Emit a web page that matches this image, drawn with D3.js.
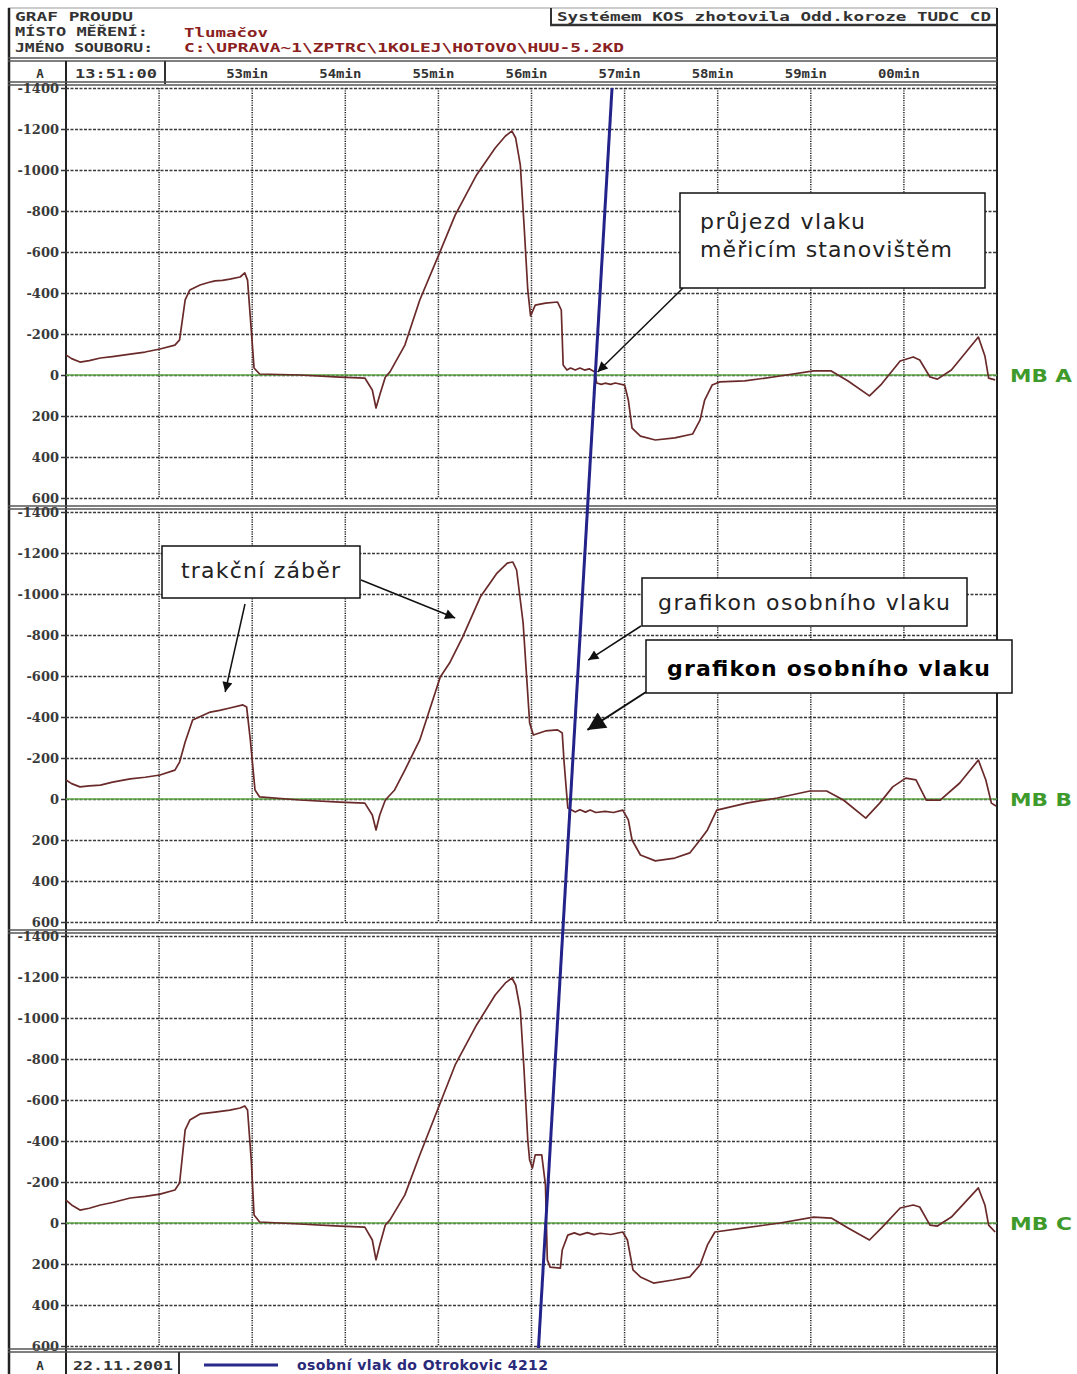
<!DOCTYPE html>
<meta charset="utf-8">
<title>Graf proudu - Tlumačov</title>
<body>
<script src="https://cdn.jsdelivr.net/npm/d3@7"></script>
<style>
html, body {
    margin: 0;
    background: #fff;
}
svg {
    display: block;
}
.grid-h line {
    stroke: #3a3a3a;
    stroke-width: 1.5;
    stroke-dasharray: 3,1.5;
}
.grid-h path, .yaxis path {
    display: none;
}
.grid-v {
    stroke: #222;
    stroke-width: 1.5;
    stroke-dasharray: 1.2,1.2;
}
.yaxis text {
    font: bold 13px "DejaVu Serif", serif;
    fill: #3a3a3a;
}
.yaxis line {
    stroke: #333;
    stroke-width: 1.5;
}
.mono {
    font-family: "DejaVu Sans Mono", monospace;
    font-weight: bold;
    font-size: 12.5px;
    fill: #333;
}
.note {
    font-family: "DejaVu Sans", sans-serif;
    font-size: 22px;
    fill: #222;
}
</style>
<script>
var width = 1077,
    height = 1374,
    left = 66,
    right = 997,
    panelTop0 = 88,
    panelStep = 424,
    panelH = 410;

var panelNames = ["MB A", "MB B", "MB C"];
var yTicks = [-1400, -1200, -1000, -800, -600, -400, -200, 0, 200, 400, 600];
var minuteTicks = [52, 53, 54, 55, 56, 57, 58, 59, 60];
var minuteLabels = ["53min", "54min", "55min", "56min", "57min", "58min", "59min", "00min"];

// [minute after 13:00, current A]
var mbA = [[51.00,-98],[51.06,-80],[51.15,-63],[51.25,-70],[51.37,-83],[51.50,-90],[51.69,-102],[51.85,-112],[52.01,-127],[52.17,-146],[52.22,-171],[52.28,-366],
  [52.33,-415],[52.44,-439],[52.52,-450],[52.60,-459],[52.68,-462],[52.76,-468],[52.87,-478],[52.92,-498],[52.95,-463],[52.99,-220],
  [53.02,-34],[53.08,-5],[53.51,0],[53.94,10],[54.21,15],[54.29,73],[54.33,161],[54.37,98],[54.43,10],
  [54.48,-15],[54.64,-146],[54.80,-366],[54.99,-571],[55.18,-780],[55.41,-976],[55.61,-1107],[55.72,-1166],
  [55.79,-1190],[55.83,-1156],[55.88,-1024],[55.92,-732],[55.96,-415],[55.99,-288],[56.04,-341],[56.15,-351],
  [56.28,-356],[56.32,-317],[56.34,-49],[56.38,-24],[56.42,-34],[56.47,-24],[56.52,-34],[56.57,-24],[56.62,-30],
  [56.68,-15],[56.70,39],[56.75,46],[56.79,40],[56.85,46],[56.90,39],[57.00,49],[57.04,122],[57.08,259],
  [57.17,298],[57.33,317],[57.54,307],[57.73,288],[57.81,220],[57.86,122],[57.94,49],[58.02,34],[58.29,29],
  [58.67,5],[59.03,-20],[59.22,-20],[59.40,29],[59.63,102],[59.76,44],[59.96,-68],[60.10,-88],[60.17,-73],
  [60.28,10],[60.36,20],[60.51,-24],[60.80,-185],[60.87,-93],[60.91,15],[60.98,24]];

var mbB = [[51.00,-93],[51.06,-75],[51.15,-59],[51.25,-64],[51.37,-68],[51.50,-82],[51.69,-98],[51.85,-106],[52.01,-117],[52.17,-141],[52.22,-180],[52.28,-278],
  [52.36,-385],[52.55,-424],[52.65,-432],[52.76,-444],[52.90,-459],[52.94,-449],[52.98,-288],[53.03,-44],[53.08,-10],
  [53.51,5],[53.94,15],[54.21,20],[54.29,78],[54.33,151],[54.37,78],[54.43,5],[54.53,-44],[54.64,-141],
  [54.80,-288],[55.02,-595],[55.12,-663],[55.26,-790],[55.45,-985],[55.63,-1102],[55.74,-1151],[55.80,-1156],
  [55.84,-1117],[55.91,-859],[55.98,-371],[56.02,-312],[56.15,-332],[56.28,-337],[56.33,-322],[56.35,-180],
  [56.39,44],[56.47,63],[56.52,52],[56.58,64],[56.63,54],[56.69,66],[56.79,60],[56.88,66],[56.98,54],
  [57.04,102],[57.08,200],[57.17,273],[57.33,302],[57.54,288],[57.70,263],[57.81,200],[57.89,151],[57.99,54],
  [58.31,20],[58.64,-5],[58.99,-39],[59.17,-39],[59.35,5],[59.59,93],[59.74,20],[59.88,-59],[60.02,-102],
  [60.13,-93],[60.24,5],[60.39,5],[60.60,-78],[60.80,-190],[60.88,-93],[60.94,20],[60.99,34]];

var mbC = [[51.00,-112],[51.06,-88],[51.15,-63],[51.25,-72],[51.37,-88],[51.50,-100],[51.69,-122],[51.85,-130],[52.01,-141],[52.17,-161],[52.22,-195],[52.28,-454],
  [52.33,-502],[52.44,-532],[52.60,-541],[52.76,-551],[52.87,-561],[52.92,-571],[52.95,-551],[52.99,-307],
  [53.02,-39],[53.08,-5],[53.51,5],[53.94,15],[54.21,20],[54.29,83],[54.33,180],[54.37,107],[54.43,10],
  [54.48,-15],[54.64,-137],[54.80,-332],[54.99,-551],[55.18,-771],[55.41,-966],[55.61,-1112],[55.72,-1171],
  [55.79,-1195],[55.83,-1161],[55.88,-1039],[55.92,-746],[55.96,-405],[55.98,-307],[56.01,-268],[56.04,-332],
  [56.11,-332],[56.15,-185],[56.17,180],[56.20,215],[56.31,220],[56.33,132],[56.39,59],[56.46,48],[56.52,58],
  [56.60,47],[56.67,57],[56.74,50],[56.85,56],[56.98,44],[57.03,83],[57.09,229],[57.17,263],[57.31,293],
  [57.52,278],[57.70,263],[57.81,205],[57.89,107],[57.97,44],[58.29,24],[58.67,0],[59.03,-29],[59.22,-24],
  [59.40,24],[59.63,83],[59.76,24],[59.96,-73],[60.10,-88],[60.17,-78],[60.28,10],[60.36,15],[60.51,-29],
  [60.80,-171],[60.87,-88],[60.91,10],[60.98,44]];

// osobní vlak 4212: minute where it crosses the top of MB A (0) and the bottom of MB C (1)
var trainPath = [[56.865, 0], [56.075, 1]];

var series = [mbA, mbB, mbC];

var svg = d3.select("body").append("svg")
    .attr("width", width)
    .attr("height", height);

var x = d3.scaleLinear().domain([51, 61]).range([left, right]);

function panelY(i) {
    var top = panelTop0 + i * panelStep;
    return d3.scaleLinear().domain([600, -1400]).range([top + panelH, top]);
}

var bottomY = panelTop0 + 2 * panelStep + panelH;
var track = d3.scaleLinear().domain([0, 1]).range([panelTop0, bottomY + 2]);

var defs = svg.append("defs");
function marker(id, w, h) {
    defs.append("marker")
        .attr("id", id)
        .attr("viewBox", "0 0 10 10")
        .attr("refX", 10)
        .attr("refY", 5)
        .attr("markerUnits", "userSpaceOnUse")
        .attr("markerWidth", w)
        .attr("markerHeight", h)
        .attr("orient", "auto")
      .append("path")
        .attr("d", "M0,0L10,5L0,10z")
        .attr("fill", "#111");
}
marker("arr", 13, 10);
marker("arrBig", 22, 18);

// frame + header
function hline(y, x1, x2, w, c) {
    svg.append("line").attr("x1", x1).attr("x2", x2).attr("y1", y).attr("y2", y)
        .attr("stroke", c || "#444").attr("stroke-width", w || 1.5);
}
function vline(xp, y1, y2, w, c) {
    svg.append("line").attr("x1", xp).attr("x2", xp).attr("y1", y1).attr("y2", y2)
        .attr("stroke", c || "#333").attr("stroke-width", w || 2);
}
function mono(x0, y0, len, txt, color) {
    return svg.append("text").attr("class", "mono").attr("x", x0).attr("y", y0)
        .attr("textLength", len).attr("lengthAdjust", "spacingAndGlyphs")
        .style("fill", color || null)
        .text(txt);
}

hline(8, 8, right, 1.2, "#999");
vline(9, 8, height, 2.5, "#222");
vline(right, 8, height, 2, "#222");

mono(15, 21, 118, "GRAF PROUDU");
mono(15, 36, 133, "MÍSTO MĚŘENÍ:");
mono(15, 52, 138, "JMÉNO SOUBORU:");
mono(184, 37, 84, "Tlumačov", "#8a2020");
mono(184, 52, 440, "C:\\UPRAVA~1\\ZPTRC\\1KOLEJ\\HOTOVO\\HUU-5.2KD", "#8a2020");

vline(551, 8, 25, 2, "#333");
hline(25, 550, right, 2.5, "#333");
mono(557, 21, 434, "Systémem KOS zhotovila Odd.koroze TUDC CD");

// time row
hline(58, 8, right, 1.5, "#555");
hline(61, 8, right, 1.5, "#555");
vline(left, 61, height, 2, "#222");
vline(165, 61, 84, 2, "#333");
svg.append("text").attr("class", "mono").attr("x", 40).attr("y", 78).attr("text-anchor", "middle").text("A");
mono(75, 78, 82, "13:51:00");
svg.selectAll(".tlabel")
    .data(minuteLabels)
    .enter().append("text")
    .attr("class", "mono")
    .attr("x", function(d, i) { return x(53 + i) - 5; })
    .attr("y", 78)
    .attr("text-anchor", "middle")
    .attr("textLength", 42)
    .attr("lengthAdjust", "spacingAndGlyphs")
    .text(function(d) { return d; });

// panels
series.forEach(function(data, i) {
    var y = panelY(i),
        top = y.range()[1],
        bot = y.range()[0];

    hline(top - 6, 8, right, 1.5, "#555");
    hline(top - 3, 8, right, 1.5, "#555");

    var g = svg.append("g");

    g.append("g")
        .attr("class", "grid-h")
        .attr("transform", "translate(" + left + ",0)")
        .call(d3.axisLeft(y).tickValues(yTicks).tickSize(-(right - left)).tickFormat(""));

    g.selectAll(".grid-v")
        .data(minuteTicks)
        .enter().append("line")
        .attr("class", "grid-v")
        .attr("x1", x).attr("x2", x)
        .attr("y1", top).attr("y2", bot);

    g.append("g")
        .attr("class", "yaxis")
        .attr("transform", "translate(" + left + ",0)")
        .call(d3.axisLeft(y).tickValues(yTicks).tickSize(5).tickPadding(2)
            .tickFormat(function(d) { return String(d); }));

    g.append("line")
        .attr("x1", left).attr("x2", right)
        .attr("y1", y(0)).attr("y2", y(0))
        .attr("stroke", "#5ea848")
        .attr("stroke-width", 1.6);

    g.append("path")
        .datum(data)
        .attr("fill", "none")
        .attr("stroke", "#6a2a2a")
        .attr("stroke-width", 1.7)
        .attr("stroke-linejoin", "round")
        .attr("d", d3.line().x(function(d) { return x(d[0]); }).y(function(d) { return y(d[1]); }));

    g.append("text")
        .attr("x", 1010)
        .attr("y", y(0) + 7)
        .attr("textLength", 62)
        .attr("lengthAdjust", "spacingAndGlyphs")
        .style("font", "bold 18px 'DejaVu Sans', sans-serif")
        .style("fill", "#3f9a2c")
        .text(panelNames[i]);
});

// footer
hline(bottomY + 3, 8, right, 1.5, "#555");
hline(bottomY + 6, 8, right, 1.5, "#555");
vline(179, bottomY + 6, height, 2, "#333");
svg.append("text").attr("class", "mono").attr("x", 40).attr("y", 1370).attr("text-anchor", "middle").text("A");
mono(73, 1370, 100, "22.11.2001");
svg.append("line").attr("x1", 204).attr("x2", 278).attr("y1", 1365).attr("y2", 1365)
    .attr("stroke", "#2a2a8c").attr("stroke-width", 3);
svg.append("text").attr("x", 297).attr("y", 1370).attr("textLength", 251).attr("lengthAdjust", "spacing")
    .style("font", "bold 14px 'DejaVu Sans', sans-serif").style("fill", "#2a2a7a")
    .text("osobní vlak do Otrokovic 4212");

// train graph line
svg.append("path")
    .datum(trainPath)
    .attr("fill", "none")
    .attr("stroke", "#23238a")
    .attr("stroke-width", 3)
    .attr("d", d3.line().x(function(d) { return x(d[0]); }).y(function(d) { return track(d[1]); }));

// callouts
var yA = panelY(0), yB = panelY(1);

function arrow(x1, y1, x2, y2, big) {
    svg.append("line")
        .attr("x1", x1).attr("y1", y1).attr("x2", x2).attr("y2", y2)
        .attr("stroke", "#111")
        .attr("stroke-width", big ? 2 : 1.5)
        .attr("marker-end", big ? "url(#arrBig)" : "url(#arr)");
}
function box(x0, y0, w, h) {
    svg.append("rect").attr("x", x0).attr("y", y0).attr("width", w).attr("height", h)
        .attr("fill", "#fff").attr("stroke", "#111").attr("stroke-width", 1.5);
}
function note(x0, y0, len, txt, bold) {
    svg.append("text").attr("class", "note").attr("x", x0).attr("y", y0)
        .attr("textLength", len).attr("lengthAdjust", "spacing")
        .style("font-weight", bold ? "bold" : null)
        .style("fill", bold ? "#000" : "#222")
        .text(txt);
}

arrow(683, 288, x(56.71), yA(-15));
box(680, 193, 305, 95);
note(700, 229, 165, "průjezd vlaku");
note(700, 257, 252, "měřicím stanovištěm");

arrow(245, 604, x(52.71), yB(-522));
arrow(361, 580, x(55.18), yB(-883));
box(162, 546, 198, 52);
note(181, 578, 159, "trakční záběr");

arrow(641, 626, x(56.61), yB(-678));
box(642, 578, 325, 48);
note(658, 610, 292, "grafikon osobního vlaku");

arrow(646, 692, x(56.60), yB(-337), true);
box(646, 640, 366, 53);
note(667, 676, 323, "grafikon osobního vlaku", true);
</script>
